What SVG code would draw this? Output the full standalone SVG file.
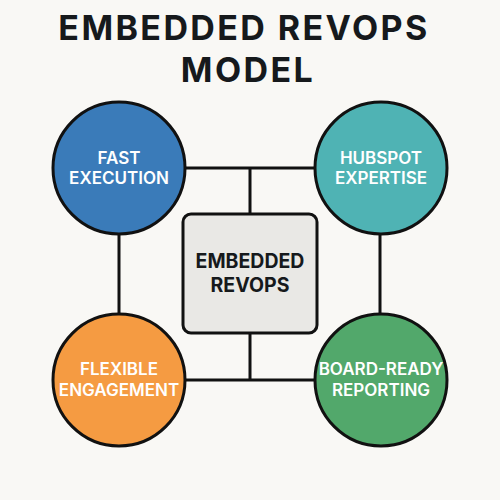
<svg xmlns="http://www.w3.org/2000/svg" width="500" height="500" viewBox="0 0 500 500">
<style>
.bg{fill:#f9f8f5}
.title{font-family:Inter,"Liberation Sans",sans-serif;font-weight:700;font-size:34px;fill:#16191c;text-anchor:middle;letter-spacing:2.4px}
.node{stroke:#111;stroke-width:3}
.ct{font-family:Inter,"Liberation Sans",sans-serif;font-weight:600;font-size:17px;fill:#fff;text-anchor:middle}
.bt{font-family:Inter,"Liberation Sans",sans-serif;font-weight:700;font-size:19.5px;fill:#16191c;text-anchor:middle}
.conn{stroke:#111;stroke-width:3;fill:none}
</style>
<rect class="bg" x="0" y="0" width="500" height="500"/>
<g id="title">
<text class="title" x="244" y="40">EMBEDDED REVOPS</text>
<text class="title" x="248" y="81.5">MODEL</text>
</g>
<g id="connectors">
<line class="conn" x1="185" y1="168" x2="315" y2="168"/>
<line class="conn" x1="250" y1="168" x2="250" y2="214"/>
<line class="conn" x1="186" y1="380" x2="315" y2="380"/>
<line class="conn" x1="250" y1="333" x2="250" y2="380"/>
<line class="conn" x1="119" y1="233" x2="119" y2="314"/>
<line class="conn" x1="380" y1="234" x2="380" y2="314"/>
</g>
<g id="fast-execution">
<circle class="node" cx="119" cy="168" r="66" fill="#3a7bb9"/>
<text class="ct" x="119" y="164">FAST</text>
<text class="ct" x="119" y="184">EXECUTION</text>
</g>
<g id="hubspot-expertise">
<circle class="node" cx="381" cy="168" r="66" fill="#4fb3b4"/>
<text class="ct" x="381" y="164">HUBSPOT</text>
<text class="ct" x="381" y="184">EXPERTISE</text>
</g>
<g id="flexible-engagement">
<circle class="node" cx="119" cy="380" r="66" fill="#f59b42"/>
<text class="ct" x="119" y="375">FLEXIBLE</text>
<text class="ct" x="119" y="396">ENGAGEMENT</text>
</g>
<g id="board-ready-reporting">
<circle class="node" cx="381" cy="380" r="66" fill="#52a86b"/>
<text class="ct" x="381" y="375">BOARD-READY</text>
<text class="ct" x="381" y="396">REPORTING</text>
</g>
<g id="embedded-revops">
<rect class="node" x="183" y="214" width="134" height="119" rx="8" fill="#e9e8e5"/>
<text class="bt" x="250" y="268">EMBEDDED</text>
<text class="bt" x="250" y="292">REVOPS</text>
</g>
</svg>
